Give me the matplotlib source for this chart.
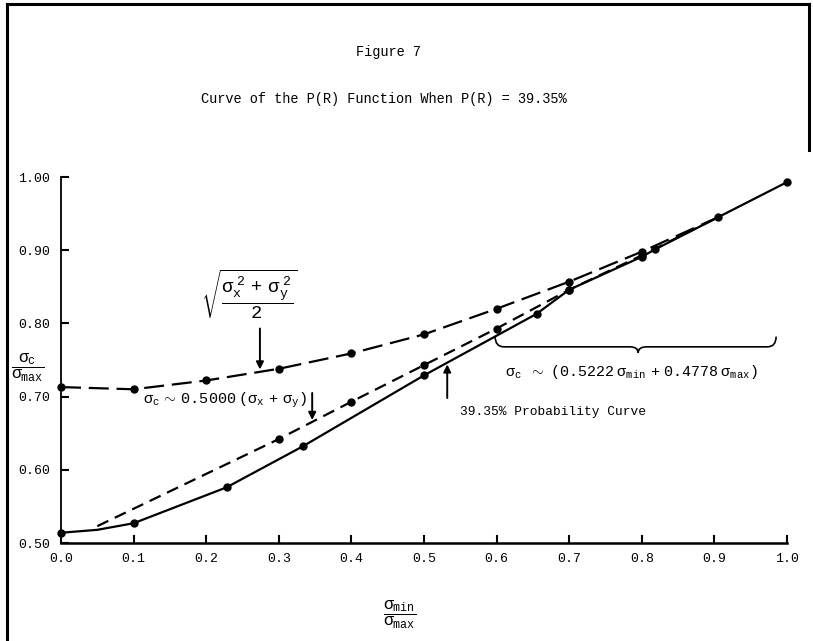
import matplotlib.pyplot as plt
from matplotlib.path import Path
from matplotlib.patches import PathPatch
from matplotlib.lines import Line2D

plt.rcParams['font.family'] = ['Liberation Mono', 'DejaVu Sans Mono']
plt.rcParams['mathtext.fontset'] = 'custom'
plt.rcParams['mathtext.rm'] = 'Liberation Mono'
plt.rcParams['mathtext.it'] = 'Liberation Mono'
plt.rcParams['mathtext.bf'] = 'Liberation Mono:bold'

# sqrt((sx^2 + sy^2) / 2) curve (long dash)
rms_x = [0.0, 0.1, 0.2, 0.3, 0.4, 0.5, 0.6, 0.7, 0.8, 0.905]
rms_y = [0.713, 0.710, 0.722, 0.738, 0.759, 0.785, 0.820, 0.857, 0.898, 0.945]

# 0.5000 (sx + sy) line (short dash)
avg_x = [0.05, 0.3, 0.4, 0.5, 0.6, 0.7, 0.8, 0.905]
avg_y = [0.523, 0.642, 0.693, 0.743, 0.793, 0.846, 0.893, 0.945]

# 39.35% probability curve (solid)
prob_x = [0.0, 0.05, 0.1, 0.228, 0.333, 0.5, 0.655, 0.7, 0.8, 0.818, 0.905, 1.0]
prob_y = [0.514, 0.518, 0.527, 0.576, 0.632, 0.729, 0.813, 0.846, 0.891, 0.901, 0.945, 0.993]
prob_dot = [True, False, True, True, True, True, True, True, True, True, True, True]

x_ticks = [0.0, 0.1, 0.2, 0.3, 0.4, 0.5, 0.6, 0.7, 0.8, 0.9, 1.0]
y_ticks = [0.50, 0.60, 0.70, 0.80, 0.90, 1.00]

W, H = 813, 641
fig = plt.figure(figsize=(W / 100, H / 100), dpi=100)
ax = fig.add_axes([61 / W, 1 - 543 / H, 726 / W, 366 / H])

ax.plot(rms_x, rms_y, color='black', lw=1.6, dashes=(9, 3.5), clip_on=False)
ax.plot(rms_x[:9], rms_y[:9], 'o', color='black', ms=5, clip_on=False)

ax.plot(avg_x, avg_y, color='black', lw=1.6, dashes=(5.5, 3.2), clip_on=False)
ax.plot(avg_x[1:7], avg_y[1:7], 'o', color='black', ms=5, clip_on=False)

ax.plot(prob_x, prob_y, color='black', lw=1.6, clip_on=False)
ax.plot([x for x, k in zip(prob_x, prob_dot) if k],
        [y for y, k in zip(prob_y, prob_dot) if k],
        'o', color='black', ms=5, clip_on=False)

ax.set_xlim(0, 1.0)
ax.set_ylim(0.5, 1.0)
ax.set_xticks(x_ticks)
ax.set_yticks(y_ticks)
ax.set_xticklabels(['%.1f' % v for v in x_ticks])
ax.set_yticklabels(['%.2f' % v for v in y_ticks])
ax.tick_params(direction='in', length=6, width=1.5, labelsize=9.5)
ax.tick_params(axis='x', pad=7)
ax.tick_params(axis='y', pad=8)
for s in ['top', 'right']:
    ax.spines[s].set_visible(False)
ax.spines['left'].set_linewidth(1.3)
ax.spines['bottom'].set_linewidth(1.8)

arrow = dict(arrowstyle='-|>', lw=1.4, color='black', mutation_scale=11,
             shrinkA=0, shrinkB=0)

# sqrt label and arrow
ax.text(0.260, 0.840, r'$\sqrt{\dfrac{\sigma_x^{\ 2}\ +\ \sigma_y^{\ 2}}{2}}$',
        ha='center', va='center', fontsize=13.5)
ax.annotate('', xy=(0.274, 0.737), xytext=(0.274, 0.793), arrowprops=arrow)

# 0.5000 label and arrow
ax.text(0.113, 0.695, r'$\sigma_c\ \sim\ 0.5000\ (\sigma_x\ +\ \sigma_y)$',
        ha='left', va='center', fontsize=11)
ax.annotate('', xy=(0.346, 0.668), xytext=(0.346, 0.705), arrowprops=arrow)

# probability curve label and arrow
ax.text(0.55, 0.679, '39.35% Probability Curve', ha='left', va='center',
        fontsize=9.3)
ax.annotate('', xy=(0.532, 0.744), xytext=(0.532, 0.698), arrowprops=arrow)

# curly brace
x0, x1, xm = 0.598, 0.985, 0.795
ye, yl, yt = 0.782, 0.768, 0.760
d = 0.012
verts = [(x0, ye), (x0, yl), (x0 + d, yl), (xm - d, yl),
         (xm, yl), (xm, yt), (xm, yl), (xm + d, yl),
         (x1 - d, yl), (x1, yl), (x1, ye)]
codes = [Path.MOVETO, Path.CURVE3, Path.CURVE3, Path.LINETO,
         Path.CURVE3, Path.CURVE3, Path.CURVE3, Path.CURVE3,
         Path.LINETO, Path.CURVE3, Path.CURVE3]
ax.add_patch(PathPatch(Path(verts, codes), fill=False, lw=1.2,
                       color='black', clip_on=False))
ax.text(0.612, 0.734,
        r'$\sigma_c\ \ \ \sim\ \ (0.5222\ \sigma_{min}\ +\ 0.4778\ \sigma_{max})$',
        ha='left', va='center', fontsize=10.8)

# titles
fig.text(388 / W, 1 - 52 / H, 'Figure 7', ha='center', va='center',
         fontsize=9.8)
fig.text(384 / W, 1 - 99 / H, 'Curve of the P(R) Function When P(R) = 39.35%',
         ha='center', va='center', fontsize=9.8)

# axis labels
fig.text(28 / W, 1 - 368 / H, r'$\dfrac{\sigma_c}{\sigma_{max}}$',
         ha='center', va='center', fontsize=12)
fig.text(400 / W, 1 - 615 / H, r'$\dfrac{\sigma_{min}}{\sigma_{max}}$',
         ha='center', va='center', fontsize=12)

# page border
fig.add_artist(Line2D([7 / W, 7 / W], [0, 1 - 4 / H], color='black', lw=2.2))
fig.add_artist(Line2D([7 / W, 809 / W], [1 - 4 / H, 1 - 4 / H], color='black', lw=2.2))
fig.add_artist(Line2D([809 / W, 809 / W], [1 - 4 / H, 1 - 150 / H], color='black', lw=2.2))

fig.savefig('out.png', dpi=100)
